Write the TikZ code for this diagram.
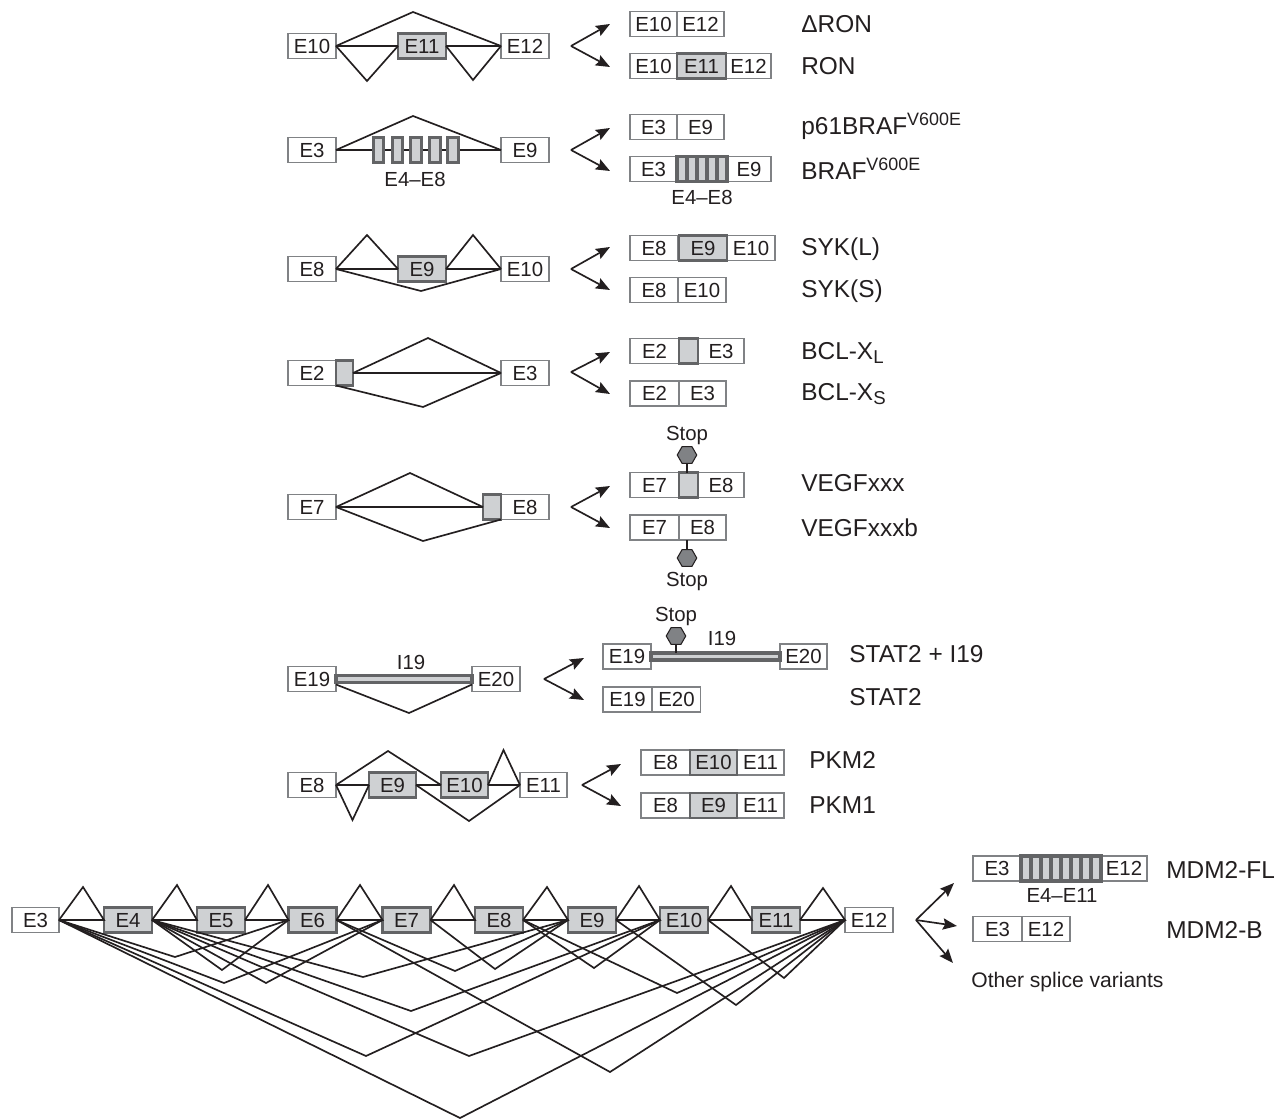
\documentclass[tikz,border=0pt]{standalone}
\usepackage{fontspec}
\setmainfont{Liberation Sans}
\usetikzlibrary{arrows.meta,shapes.geometric}
\definecolor{inkdark}{HTML}{231F20}
\definecolor{boxgray}{HTML}{808285}
\definecolor{exonedge}{HTML}{636466}
\definecolor{exonfill}{HTML}{CFD1D3}
\definecolor{stopfill}{HTML}{808285}
\newcommand{\uptag}[1]{\raisebox{5.1pt}{\fontsize{10.2}{11}\selectfont #1}}
\newcommand{\downtag}[1]{\raisebox{-2pt}{\fontsize{10.6}{11}\selectfont #1}}
\tikzset{
  plain/.style={draw=boxgray, line width=0.7pt, fill=white, text=inkdark, minimum width=#1*0.02cm,
    minimum height=0.5cm, inner sep=0pt, outer sep=0pt, font=\fontsize{11.6}{12}\selectfont, text height=8.3pt, text depth=0pt},
  exon/.style={plain=#1, draw=exonedge, line width=1.6pt, fill=exonfill},
  stripe/.style={exon=#1, line width=1.85pt},
  intron/.style={draw=exonedge, line width=1.8pt, fill=exonfill, minimum width=#1*0.02cm, minimum height=0.14cm, inner sep=0pt, outer sep=0pt},
  link/.style={draw=inkdark, line width=0.95pt, line join=miter},
  pick/.style={draw=inkdark, line width=0.95pt, -{Stealth[length=8pt, width=6.4pt, inset=1.2pt]}},
  stop/.style={regular polygon, regular polygon sides=6, draw=inkdark, line width=0.6pt, fill=stopfill, minimum size=0.39cm, inner sep=0pt, outer sep=0pt},
  note/.style={text=inkdark, inner sep=0pt, font=\fontsize{11.6}{12}\selectfont, text height=8.3pt, text depth=0pt},
  tag/.style={text=inkdark, inner sep=0pt, anchor=west, font=\fontsize{13.9}{14}\selectfont, text height=9.9pt, text depth=0pt},
}
\begin{document}
\begin{tikzpicture}[x=0.02cm, y=-0.02cm]
\useasboundingbox (0, 0) rectangle (1281, 1119);
%RON
\node[plain=48] (ron10) at (312, 46) {E10};
\node[exon=48] (ron11) at (422, 46) {E11};
\node[plain=48] (ron12) at (525, 46) {E12};
\coordinate (ronup) at (413, 12);
\coordinate (ronl) at (367, 81);
\coordinate (ronr) at (473, 80);
\draw[link] (ron10.east) -- (ronup) -- (ron12.west);
\draw[link] (ron10.east) -- (ron11.west) (ron11.east) -- (ron12.west);
\draw[link] (ron10.east) -- (ronl) -- (ron11.west);
\draw[link] (ron11.east) -- (ronr) -- (ron12.west);
\coordinate (ronfork) at (571, 46);
\coordinate (ronA) at (610, 24);
\coordinate (ronB) at (610, 67);
\draw[pick] (ronfork) -- (ronA);
\draw[pick] (ronfork) -- (ronB);
\node[plain=47] (dr10) at (653.5, 24) {E10};
\node[plain=47] (dr12) at (700.5, 24) {E12};
\node[plain=47] (fr10) at (653.5, 66) {E10};
\node[plain=45] (fr12) at (748.5, 66) {E12};
\node[exon=49] (fr11) at (701.5, 66) {E11};
\node[tag] (drlabel) at (801, 24) {ΔRON};
\node[tag] (frlabel) at (801, 66) {RON};
%BRAF
\node[plain=48] (braf3) at (312, 150) {E3};
\node[plain=48] (braf9) at (525, 150) {E9};
\coordinate (brafup) at (413, 116);
\draw[link] (braf3.east) -- (brafup) -- (braf9.west);
\draw[link] (braf3.east) -- (braf9.west);
\foreach \x [count=\i] in {378.5, 397.5, 416, 435, 453}
  \node[exon=10.5] (brafx\i) at (\x, 150) {};
\node[note] (brafspan) at (415, 179) {E4–E8};
\coordinate (braffork) at (571, 150);
\coordinate (brafA) at (610, 128);
\coordinate (brafB) at (610, 171);
\draw[pick] (braffork) -- (brafA);
\draw[pick] (braffork) -- (brafB);
\node[plain=47] (sb3) at (653.5, 127) {E3};
\node[plain=47] (sb9) at (700.5, 127) {E9};
\node[plain=47] (fb3) at (653.5, 169) {E3};
\node[plain=44] (fb9) at (749, 169) {E9};
\foreach \x [count=\i] in {682, 692, 702, 712, 722}
  \node[stripe=10] (fbx\i) at (\x, 169) {};
\node[note] (fbspan) at (702, 197) {E4–E8};
\node[tag] (sblabel) at (801, 125.5) {p61BRAF\uptag{V600E}};
\node[tag] (fblabel) at (801, 171) {BRAF\uptag{V600E}};
%SYK
\node[plain=48] (syk8) at (312, 269) {E8};
\node[exon=48] (syk9) at (422, 269) {E9};
\node[plain=48] (syk10) at (525, 269) {E10};
\coordinate (sykl) at (367, 235);
\coordinate (sykr) at (473, 235);
\coordinate (sykdown) at (421, 291);
\draw[link] (syk8.east) -- (sykl) -- (syk9.west);
\draw[link] (syk9.east) -- (sykr) -- (syk10.west);
\draw[link] (syk8.east) -- (syk9.west) (syk9.east) -- (syk10.west);
\draw[link] (syk8.east) -- (sykdown) -- (syk10.west);
\coordinate (sykfork) at (571, 269);
\coordinate (sykA) at (610, 247);
\coordinate (sykB) at (610, 290);
\draw[pick] (sykfork) -- (sykA);
\draw[pick] (sykfork) -- (sykB);
\node[plain=48] (sl8) at (654, 248) {E8};
\node[plain=48] (sl10) at (751, 248) {E10};
\node[exon=48] (sl9) at (703, 248) {E9};
\node[plain=48] (ss8) at (654, 290) {E8};
\node[plain=48] (ss10) at (702, 290) {E10};
\node[tag] (sllabel) at (801, 247) {SYK(L)};
\node[tag] (sslabel) at (801, 289) {SYK(S)};
%BCL-X
\node[plain=48] (bcl2) at (312, 373) {E2};
\node[exon=17] (bclx) at (344.5, 373) {};
\node[plain=48] (bcl3) at (525, 373) {E3};
\coordinate (bclup) at (428, 338);
\coordinate (bcldown) at (423, 407);
\draw[link] (bclx.east) -- (bclup) -- (bcl3.west);
\draw[link] (bclx.east) -- (bcl3.west);
\draw[link] (bcl2.south east) -- (bcldown) -- (bcl3.west);
\coordinate (bclfork) at (571, 372);
\coordinate (bclA) at (610, 352);
\coordinate (bclB) at (610, 394);
\draw[pick] (bclfork) -- (bclA);
\draw[pick] (bclfork) -- (bclB);
\node[plain=49] (bl2) at (654.5, 351) {E2};
\node[plain=46] (bl3) at (721, 351) {E3};
\node[exon=19] (blx) at (688.5, 351) {};
\node[plain=49] (bs2) at (654.5, 393.5) {E2};
\node[plain=47] (bs3) at (702.5, 393.5) {E3};
\node[tag] (bllabel) at (801, 351) {BCL-X\downtag{L}};
\node[tag] (bslabel) at (801, 392) {BCL-X\downtag{S}};
%VEGF
\node[plain=48] (vegf7) at (312, 507) {E7};
\node[plain=48] (vegf8) at (525, 507) {E8};
\node[exon=18] (vegfx) at (492, 507) {};
\coordinate (vegfup) at (410, 473);
\coordinate (vegfdown) at (423, 541);
\draw[link] (vegf7.east) -- (vegfup) -- (vegfx.west);
\draw[link] (vegf7.east) -- (vegfx.west);
\draw[link] (vegf7.east) -- (vegfdown) -- (vegfx.south east);
\coordinate (vegffork) at (571, 507);
\coordinate (vegfA) at (610, 486);
\coordinate (vegfB) at (610, 528);
\draw[pick] (vegffork) -- (vegfA);
\draw[pick] (vegffork) -- (vegfB);
\node[plain=49] (va7) at (654.5, 485) {E7};
\node[plain=46] (va8) at (721, 485) {E8};
\node[exon=19] (vax) at (688.5, 485) {};
\node[plain=49] (vb7) at (654.5, 527.5) {E7};
\node[plain=47] (vb8) at (702.5, 527.5) {E8};
\node[stop] (stopa) at (687, 455) {};
\node[stop] (stopb) at (687, 558) {};
\draw[link] (stopa.south) -- (stopa.south |- vax.north);
\draw[link] (stopb.north) -- (stopb.north |- vb8.south);
\node[note] (stopatext) at (687, 433) {Stop};
\node[note] (stopbtext) at (687, 579) {Stop};
\node[tag] (valabel) at (801, 483) {VEGFxxx};
\node[tag] (vblabel) at (801, 528) {VEGFxxxb};
%STAT2
\node[plain=48] (stat19) at (312, 679) {E19};
\node[plain=48] (stat20) at (496, 679) {E20};
\node[intron=136] (statbar) at (404, 679) {};
\node[note] (statspan) at (411, 662) {I19};
\coordinate (statdown) at (409, 713);
\draw[link] (stat19.south east) ++(0, -7) -- (statdown) -- ([yshift=0.14cm]stat20.south west);
\coordinate (statfork) at (544, 679);
\coordinate (statA) at (584, 658);
\coordinate (statB) at (584, 700);
\draw[pick] (statfork) -- (statA);
\draw[pick] (statfork) -- (statB);
\node[plain=48] (si19) at (627, 656.5) {E19};
\node[plain=47] (si20) at (803.5, 656.5) {E20};
\node[intron=129] (sibar) at (715.5, 656.5) {};
\node[stop] (stopc) at (676, 636) {};
\draw[link] (stopc.south) -- (stopc.south |- sibar.north);
\node[note] (stopctext) at (676, 614) {Stop};
\node[note] (sispan) at (722, 638) {I19};
\node[plain=49] (sn19) at (627.5, 699.5) {E19};
\node[plain=48] (sn20) at (676.5, 699.5) {E20};
\node[tag] (silabel) at (849, 654) {STAT2 + I19};
\node[tag] (snlabel) at (849, 697) {STAT2};
%PKM
\node[plain=48] (pk8) at (312, 785) {E8};
\node[exon=47] (pk9) at (392.5, 785) {E9};
\node[exon=47] (pk10) at (464.5, 785) {E10};
\node[plain=47] (pk11) at (543.5, 785) {E11};
\coordinate (pkup) at (388, 751);
\coordinate (pkl) at (352.5, 820);
\coordinate (pkdown) at (469, 821);
\coordinate (pkr) at (503.5, 750);
\draw[link] (pk8.east) -- (pkup) -- (pk10.west);
\draw[link] (pk8.east) -- (pk9.west) (pk9.east) -- (pk10.west) (pk10.east) -- (pk11.west);
\draw[link] (pk8.east) -- (pkl) -- (pk9.west);
\draw[link] (pk9.east) -- (pkdown) -- (pk11.west);
\draw[link] (pk10.east) -- (pkr) -- (pk11.west);
\coordinate (pkfork) at (582, 785);
\coordinate (pkA) at (621, 764);
\coordinate (pkB) at (621, 806);
\draw[pick] (pkfork) -- (pkA);
\draw[pick] (pkfork) -- (pkB);
\node[plain=49] (pa8) at (665.5, 762.5) {E8};
\node[plain=47] (pa11) at (760.5, 762.5) {E11};
\node[exon=47] (pa10) at (713.5, 762.5) {E10};
\node[plain=49] (pb8) at (665.5, 805.5) {E8};
\node[plain=47] (pb11) at (760.5, 805.5) {E11};
\node[exon=47] (pb9) at (713.5, 805.5) {E9};
\node[tag] (palabel) at (809, 760) {PKM2};
\node[tag] (pblabel) at (809, 805) {PKM1};
%MDM2
\node[plain=47] (m3) at (35.5, 920) {E3};
\foreach \n/\x in {4/128, 5/221, 6/312.5, 7/406.5, 8/499, 9/592, 10/684, 11/776}
  \node[exon=48] (m\n) at (\x, 920) {E\n};
\node[plain=48] (m12) at (869, 920) {E12};
%Triangles
\foreach \a/\b/\x/\y in {3/4/83/887, 4/5/177/885, 5/6/268/885, 6/7/360/885, 7/8/454/885, 8/9/547/887, 9/10/639/886, 10/11/731/886, 11/12/823/888}
  \draw[link] (m\a.east) -- (\x, \y) -- (m\b.west) -- (m\a.east);
%Skipped exons
\foreach \a/\b/\x/\y in {3/6/175/957, 3/7/224/983, 3/10/366/1056, 3/12/460/1118,
    4/6/222/970, 4/7/266/983, 4/9/363/977, 4/10/411/1011, 4/12/469/1056,
    6/9/455/971, 6/12/610/1072, 7/9/495/969,
    8/10/594/968, 8/12/677/993, 9/12/736/1005, 10/12/784/978}
  \draw[link] (m\a.east) -- (\x, \y) -- (m\b.west);
\coordinate (mfork) at (916, 920);
\coordinate (mA) at (954, 883);
\coordinate (mB) at (957, 926);
\coordinate (mC) at (953, 963);
\draw[pick] (mfork) -- (mA);
\draw[pick] (mfork) -- (mB);
\draw[pick] (mfork) -- (mC);
\node[plain=48] (fl3) at (997, 868.5) {E3};
\node[plain=46] (fl12) at (1124, 868.5) {E12};
\foreach \x [count=\i] in {1026, 1036, 1046, 1056, 1066, 1076, 1086, 1096}
  \node[stripe=10] (flx\i) at (\x, 868.5) {};
\node[note] (flspan) at (1062, 895) {E4–E11};
\node[plain=49] (mb3) at (997.5, 929) {E3};
\node[plain=48] (mb12) at (1046, 929) {E12};
\node[tag] (fllabel) at (1166, 870) {MDM2-FL};
\node[tag] (mblabel) at (1166, 930) {MDM2-B};
\node[tag, font=\fontsize{12}{13}\selectfont, text height=8.6pt] (others) at (971, 980) {Other splice variants};
\end{tikzpicture}
\end{document}
